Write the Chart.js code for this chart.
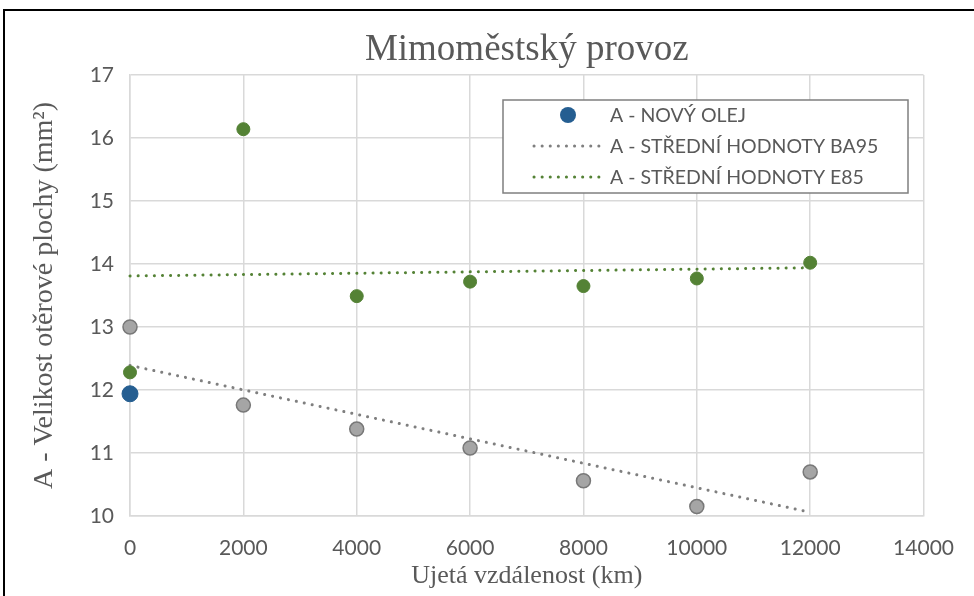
<!DOCTYPE html>
<html>
<head>
<meta charset="utf-8">
<script src="https://cdn.jsdelivr.net/npm/chart.js@4"></script>
<style>
  body { margin: 0; background: #fff; }
  #wrap { width: 974px; height: 596px; }
</style>
</head>
<body>
<div id="wrap"><canvas id="myChart" width="974" height="596"></canvas></div>
<script>
// distances (km) where the samples were taken
const distances = [0, 2000, 4000, 6000, 8000, 10000, 12000];
// wear area values (mm2)
const ba95Values = [13.0, 11.76, 11.38, 11.08, 10.56, 10.15, 10.70];
const e85Values = [12.28, 16.14, 13.49, 13.72, 13.65, 13.77, 14.02];
const newOil = [{ x: 0, y: 11.94 }];
// trend lines, end points as drawn in the picture
const ba95Trend = [{ x: 0, y: 12.39 }, { x: 12000, y: 10.06 }];
const e85Trend = [{ x: 0, y: 13.81 }, { x: 12000, y: 13.94 }];

const xTicks = [0, 2000, 4000, 6000, 8000, 10000, 12000, 14000];
const yTicks = [10, 11, 12, 13, 14, 15, 16, 17];

const labelNew = 'A - NOVÝ OLEJ';
const labelBa95 = 'A - STŘEDNÍ HODNOTY BA95';
const labelE85 = 'A - STŘEDNÍ HODNOTY E85';

const grey = '#7F7F7F';
const green = '#548235';
const blue = '#255E91';
const textCol = '#595959';
const sansFont = 'Lato, "Open Sans", sans-serif';
const serifFont = '"Liberation Serif", "DejaVu Serif", serif';

const toPoints = (vals) => distances.map((d, i) => ({ x: d, y: vals[i] }));

// black frame around the whole figure
const framePlugin = {
    id: 'frame',
    afterDraw(chart) {
        const ctx = chart.ctx;
        ctx.save();
        ctx.strokeStyle = '#000';
        ctx.lineWidth = 2;
        ctx.strokeRect(4, 10, 990, 620);
        ctx.restore();
    }
};

// legend in a boxed frame, like the Excel one
const boxLegend = {
    id: 'boxLegend',
    afterDraw(chart) {
        const ctx = chart.ctx;
        const left = 503, top = 100, w = 405, h = 93;
        ctx.save();
        ctx.fillStyle = '#fff';
        ctx.fillRect(left, top, w, h);
        ctx.strokeStyle = grey;
        ctx.lineWidth = 1.5;
        ctx.strokeRect(left, top, w, h);

        const items = chart.data.datasets.filter(ds => ds.inLegend);
        items.forEach((ds, i) => {
            const cy = top + 15 + i * 31;
            if (ds.showLine) {
                ctx.strokeStyle = ds.borderColor;
                ctx.lineWidth = ds.borderWidth;
                ctx.lineCap = 'round';
                ctx.setLineDash(ds.borderDash);
                ctx.beginPath();
                ctx.moveTo(534, cy);
                ctx.lineTo(602, cy);
                ctx.stroke();
                ctx.setLineDash([]);
            } else {
                ctx.fillStyle = ds.backgroundColor;
                ctx.beginPath();
                ctx.arc(568, cy, 8, 0, Math.PI * 2);
                ctx.fill();
            }
            ctx.fillStyle = textCol;
            ctx.font = '19.5px ' + sansFont;
            ctx.textBaseline = 'middle';
            ctx.fillText(ds.label, 610, cy + 1);
        });
        ctx.restore();
    }
};

const ctx = document.getElementById('myChart');

new Chart(ctx, {
    type: 'scatter',
    data: {
        datasets: [
            {
                label: labelNew,
                data: newOil,
                inLegend: true,
                backgroundColor: blue,
                borderColor: blue,
                pointRadius: 8,
                pointHoverRadius: 8,
                clip: false
            },
            {
                label: 'E85',
                data: toPoints(e85Values),
                backgroundColor: green,
                borderColor: green,
                pointRadius: 6.5,
                clip: false
            },
            {
                label: 'BA95',
                data: toPoints(ba95Values),
                backgroundColor: '#A5A5A5',
                borderColor: '#787878',
                borderWidth: 1.5,
                pointRadius: 7,
                clip: false
            },
            {
                label: labelBa95,
                data: ba95Trend,
                inLegend: true,
                showLine: true,
                borderColor: grey,
                borderWidth: 3,
                borderDash: [0.1, 8],
                borderCapStyle: 'round',
                pointRadius: 0,
                clip: false
            },
            {
                label: labelE85,
                data: e85Trend,
                inLegend: true,
                showLine: true,
                borderColor: green,
                borderWidth: 3,
                borderDash: [0.1, 8],
                borderCapStyle: 'round',
                pointRadius: 0,
                clip: false
            }
        ]
    },
    options: {
        responsive: false,
        animation: false,
        layout: { padding: { left: 0, right: 49, top: 0, bottom: 0 } },
        plugins: {
            legend: { display: false },
            tooltip: { enabled: false },
            title: {
                display: true,
                text: 'Mimoměstský provoz',
                color: textCol,
                fullSize: false,
                font: { family: serifFont, size: 37, weight: 'normal' },
                padding: { top: 28, bottom: 2.6 }
            }
        },
        scales: {
            x: {
                type: 'linear',
                min: 0,
                max: 14000,
                afterFit: (s) => { s.height = 80; },
                afterBuildTicks: (s) => { s.ticks = xTicks.map(v => ({ value: v })); },
                grid: { color: '#D9D9D9', lineWidth: 1.5, drawTicks: false },
                border: { color: '#D9D9D9', width: 1.5 },
                ticks: {
                    color: textCol,
                    font: { family: sansFont, size: 21 },
                    padding: 20,
                    maxRotation: 0,
                    callback: (v) => String(v)
                },
                title: {
                    display: true,
                    text: 'Ujetá vzdálenost (km)',
                    color: textCol,
                    font: { family: serifFont, size: 26 },
                    padding: { top: 0, bottom: 4 }
                }
            },
            y: {
                min: 10,
                max: 17,
                afterFit: (s) => { s.width = 130; },
                afterBuildTicks: (s) => { s.ticks = yTicks.map(v => ({ value: v })); },
                grid: { color: '#D9D9D9', lineWidth: 1.5, drawTicks: false },
                border: { color: '#D9D9D9', width: 1.5 },
                ticks: {
                    color: textCol,
                    font: { family: sansFont, size: 21 },
                    padding: 16,
                    callback: (v) => String(v)
                },
                title: {
                    display: true,
                    text: 'A - Velikost otěrové plochy (mm²)',
                    color: textCol,
                    font: { family: serifFont, size: 28 },
                    padding: { top: 28, bottom: 0 }
                }
            }
        }
    },
    plugins: [framePlugin, boxLegend]
});
</script>
</body>
</html>
